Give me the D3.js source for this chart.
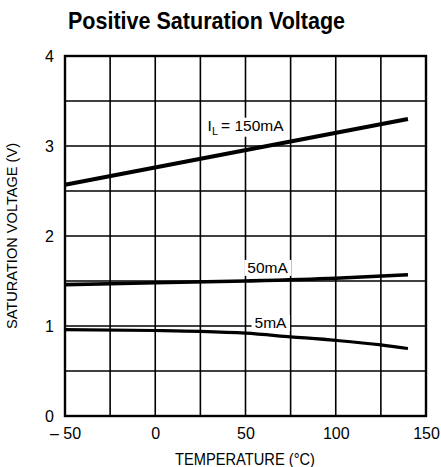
<!DOCTYPE html>
<html><head><meta charset="utf-8">
<script src="https://cdn.jsdelivr.net/npm/d3@7"></script>
<style>
html,body{margin:0;padding:0;background:#fff;}
svg{display:block;}
text{font-family:"Liberation Sans Narrow","Arial Narrow","Liberation Sans",Arial,sans-serif;fill:#000;}
</style></head>
<body>
<svg id="c" width="441" height="467"></svg>
<script>
const title = "Positive Saturation Voltage";
const xTitle = "TEMPERATURE (°C)";
const yTitle = "SATURATION VOLTAGE (V)";
const xTicks = [-50, 0, 50, 100, 150];
const xTickLabels = ["\u2013 50", "0", "50", "100", "150"];
const yTicks = [0, 1, 2, 3, 4];
const yTickLabels = ["0", "1", "2", "3", "4"];

const temp150 = [-50, 140];
const v150 = [2.57, 3.30];
const temp50 = [-50, 0, 50, 100, 140];
const v50 = [1.46, 1.48, 1.50, 1.53, 1.57];
const temp5 = [-50, 0, 25, 50, 75, 100, 125, 140];
const v5 = [0.96, 0.95, 0.94, 0.92, 0.88, 0.84, 0.79, 0.75];

const svg = d3.select("#c");
const L = 65, R = 426, T = 56, B = 416;
const x = d3.scaleLinear().domain([-50, 150]).range([L, R]);
const y = d3.scaleLinear().domain([0, 4]).range([B, T]);

// grid
const g = svg.append("g");
g.selectAll("line.v").data(d3.range(-50, 151, 25)).join("line")
  .attr("x1", d => x(d)).attr("x2", d => x(d)).attr("y1", T).attr("y2", B)
  .attr("stroke", "#000").attr("stroke-width", 1.6);
g.selectAll("line.h").data(d3.range(0, 4.01, 0.5)).join("line")
  .attr("y1", d => y(d)).attr("y2", d => y(d)).attr("x1", L).attr("x2", R)
  .attr("stroke", "#000").attr("stroke-width", 1.6);
svg.append("rect").attr("x", L).attr("y", T).attr("width", R - L).attr("height", B - T)
  .attr("fill", "none").attr("stroke", "#000").attr("stroke-width", 2.4);

// curves
const line = d3.line().x(d => x(d[0])).y(d => y(d[1])).curve(d3.curveMonotoneX);
const curves = [
  {t: temp150, v: v150, w: 4.2},
  {t: temp50, v: v50, w: 3.6},
  {t: temp5, v: v5, w: 3.2}
];
curves.forEach(c => {
  svg.append("path").datum(c.t.map((t, i) => [t, c.v[i]]))
    .attr("d", line).attr("fill", "none").attr("stroke", "#000")
    .attr("stroke-width", c.w).attr("stroke-linecap", "butt");
});

// labels with white backgrounds
const labelLayer = svg.append("g");
function label(tx, ty, build) {
  const grp = labelLayer.append("g");
  const t = grp.append("text").attr("x", x(tx)).attr("y", y(ty)).attr("font-size", 15.5);
  build(t);
  const bb = t.node().getBBox();
  grp.insert("rect", "text").attr("x", bb.x - 3).attr("y", bb.y + 1)
    .attr("width", bb.width + 6).attr("height", bb.height - 1).attr("fill", "#fff");
  return t;
}
label(29, 3.17, t => {
  t.append("tspan").text("I");
  t.append("tspan").attr("font-size", 11).attr("dy", 4).text("L");
  t.append("tspan").attr("dy", -4).attr("dx", 3).text("= 150mA");
});
label(51, 1.59, t => t.text("50mA"));
label(55, 0.98, t => t.text("5mA"));

// axes tick labels
const xa = svg.append("g").attr("transform", `translate(0,${B})`)
  .call(d3.axisBottom(x).tickValues(xTicks).tickSize(0).tickPadding(12)
    .tickFormat((d, i) => xTickLabels[i]));
xa.select(".domain").remove();
xa.selectAll("text").attr("font-size", 16).attr("font-family", null).attr("fill", "#000");

const ya = svg.append("g").attr("transform", `translate(${L},0)`)
  .call(d3.axisLeft(y).tickValues(yTicks).tickSize(0).tickPadding(11)
    .tickFormat((d, i) => yTickLabels[i]));
ya.select(".domain").remove();
ya.selectAll("text").attr("font-size", 16).attr("font-family", null).attr("fill", "#000");

// titles
svg.append("text").attr("x", 68).attr("y", 28.5).attr("font-size", 24).attr("font-weight", "bold")
  .attr("textLength", 277).attr("lengthAdjust", "spacingAndGlyphs").text(title);
svg.append("text").attr("x", 245).attr("y", 465).attr("text-anchor", "middle")
  .attr("font-size", 16).attr("textLength", 140).attr("lengthAdjust", "spacingAndGlyphs").text(xTitle);
svg.append("text").attr("transform", "translate(17,236) rotate(-90)").attr("text-anchor", "middle")
  .attr("font-size", 15).attr("textLength", 186).attr("lengthAdjust", "spacingAndGlyphs").text(yTitle);
</script>
</body></html>
